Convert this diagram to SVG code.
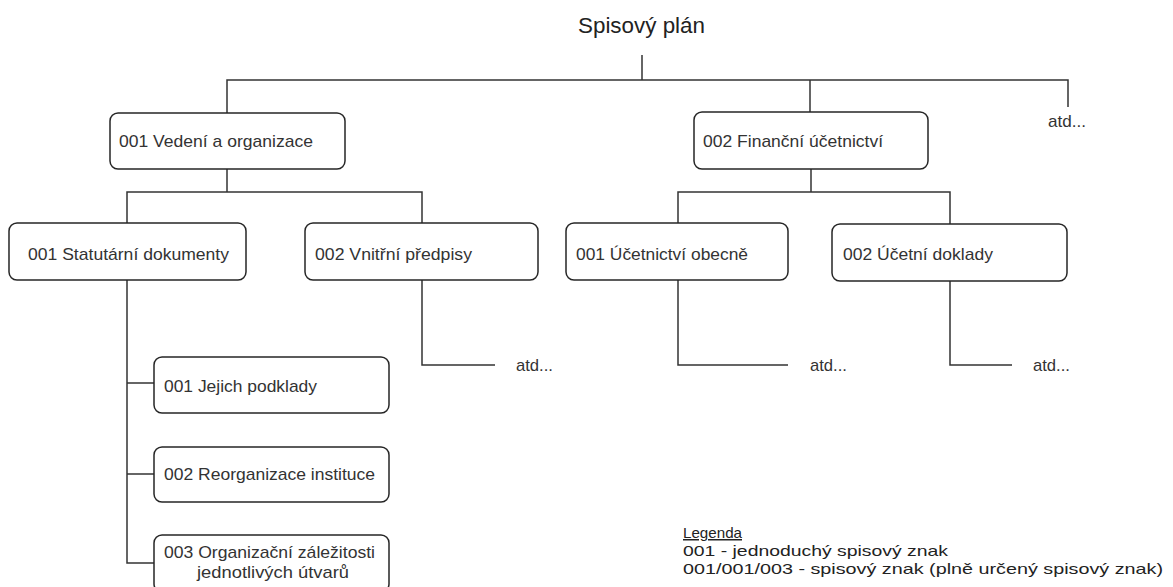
<svg xmlns="http://www.w3.org/2000/svg" width="1173" height="587" viewBox="0 0 1173 587">
<style>
.bg{fill:#ffffff}
.box{fill:#ffffff;stroke:#262626;stroke-width:1.5}
.ln{fill:none;stroke:#333333;stroke-width:1.5}
.t{font-family:"Liberation Sans",Arial,sans-serif;font-size:17px;fill:#333333}
.title{font-family:"Liberation Sans",Arial,sans-serif;font-size:22px;fill:#222222}
.lg{font-family:"Liberation Sans",Arial,sans-serif;font-size:15px;fill:#222222}
</style>
<rect class="bg" x="0" y="0" width="1173" height="587"/>
<g id="connectors">
<path class="ln" d="M642 55 V80"/>
<path class="ln" d="M227 113 V80 H1068 V107"/>
<path class="ln" d="M810 80 V112"/>
<path class="ln" d="M227 169 V192"/>
<path class="ln" d="M127 224 V192 H422 V224"/>
<path class="ln" d="M811 169 V192"/>
<path class="ln" d="M678 224 V192 H950 V224"/>
<path class="ln" d="M127 280 V563 H154"/>
<path class="ln" d="M127 383 H154"/>
<path class="ln" d="M127 474 H154"/>
<path class="ln" d="M422 280 V365 H495"/>
<path class="ln" d="M678 280 V365 H788"/>
<path class="ln" d="M950 281 V365 H1012"/>
</g>
<g id="title"><text class="title" x="578" y="33" textLength="127" lengthAdjust="spacingAndGlyphs">Spisový plán</text></g>
<g id="n001"><rect class="box" x="110" y="113" width="235" height="56" rx="8"/><text class="t" x="119" y="147" textLength="194" lengthAdjust="spacingAndGlyphs">001 Vedení a organizace</text></g>
<g id="n002"><rect class="box" x="694" y="112" width="234" height="57" rx="8"/><text class="t" x="703" y="147" textLength="180" lengthAdjust="spacingAndGlyphs">002 Finanční účetnictví</text></g>
<g id="atd-top"><text class="t" x="1048" y="127" textLength="38" lengthAdjust="spacingAndGlyphs">atd...</text></g>
<g id="n001-001"><rect class="box" x="9" y="223" width="237" height="57" rx="8"/><text class="t" x="28" y="260" textLength="201" lengthAdjust="spacingAndGlyphs">001 Statutární dokumenty</text></g>
<g id="n001-002"><rect class="box" x="305" y="223" width="233" height="57" rx="8"/><text class="t" x="315" y="260" textLength="157" lengthAdjust="spacingAndGlyphs">002 Vnitřní předpisy</text></g>
<g id="n002-001"><rect class="box" x="566" y="223" width="222" height="57" rx="8"/><text class="t" x="576" y="260" textLength="172" lengthAdjust="spacingAndGlyphs">001 Účetnictví obecně</text></g>
<g id="n002-002"><rect class="box" x="832" y="224" width="235" height="57" rx="8"/><text class="t" x="843" y="260" textLength="150" lengthAdjust="spacingAndGlyphs">002 Účetní doklady</text></g>
<g id="atd-1"><text class="t" x="516" y="371" textLength="37" lengthAdjust="spacingAndGlyphs">atd...</text></g>
<g id="atd-2"><text class="t" x="810" y="371" textLength="37" lengthAdjust="spacingAndGlyphs">atd...</text></g>
<g id="atd-3"><text class="t" x="1033" y="371" textLength="37" lengthAdjust="spacingAndGlyphs">atd...</text></g>
<g id="n001-001-001"><rect class="box" x="154" y="357" width="235" height="56" rx="8"/><text class="t" x="164" y="392" textLength="153" lengthAdjust="spacingAndGlyphs">001 Jejich podklady</text></g>
<g id="n001-001-002"><rect class="box" x="154" y="447" width="235" height="55" rx="8"/><text class="t" x="164" y="480" textLength="211" lengthAdjust="spacingAndGlyphs">002 Reorganizace instituce</text></g>
<g id="n001-001-003"><rect class="box" x="154" y="535" width="235" height="57" rx="8"/><text class="t" x="164" y="558" textLength="211" lengthAdjust="spacingAndGlyphs">003 Organizační záležitosti</text><text class="t" x="197" y="578" textLength="152" lengthAdjust="spacingAndGlyphs">jednotlivých útvarů</text></g>
<g id="legend">
<text class="lg" x="683" y="538" textLength="59" lengthAdjust="spacingAndGlyphs" text-decoration="underline">Legenda</text>
<text class="lg" x="683" y="556" textLength="265" lengthAdjust="spacingAndGlyphs">001 - jednoduchý spisový znak</text>
<text class="lg" x="683" y="574" textLength="480" lengthAdjust="spacingAndGlyphs">001/001/003 - spisový znak (plně určený spisový znak)</text>
</g>
</svg>
